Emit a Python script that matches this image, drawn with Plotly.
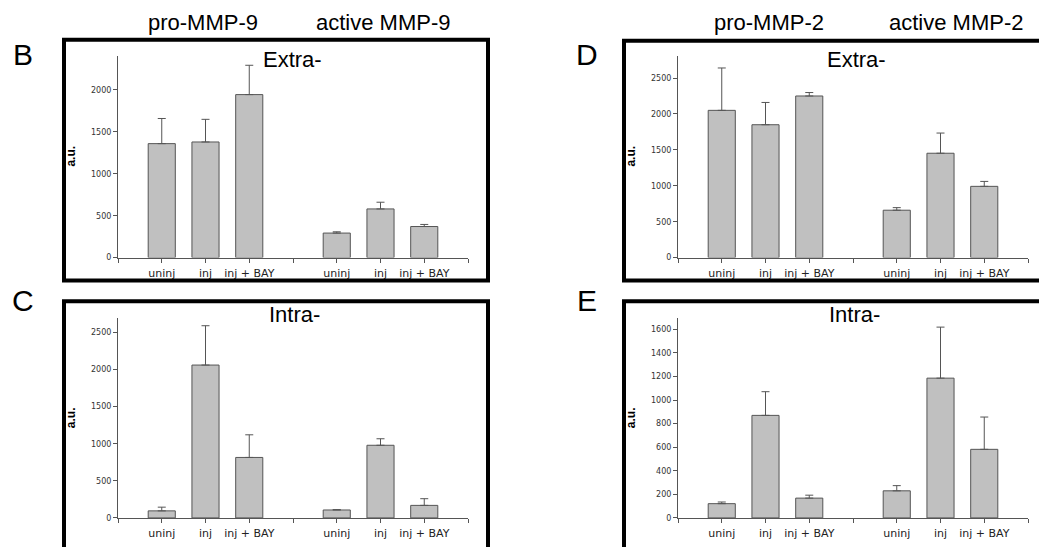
import plotly.graph_objects as go

W, H = 1039, 547

# ---- data ----
categories = ["uninj", "inj", "inj + BAY"]

mmp9_extra_pro = [1360, 1380, 1945]
mmp9_extra_pro_err = [300, 270, 350]
mmp9_extra_act = [293, 581, 371]
mmp9_extra_act_err = [15, 80, 25]

mmp9_intra_pro = [95, 2060, 815]
mmp9_intra_pro_err = [50, 530, 305]
mmp9_intra_act = [107, 979, 169]
mmp9_intra_act_err = [5, 88, 90]

mmp2_extra_pro = [2050, 1850, 2250]
mmp2_extra_pro_err = [590, 310, 48]
mmp2_extra_act = [660, 1453, 992]
mmp2_extra_act_err = [36, 281, 69]

mmp2_intra_pro = [121, 870, 168]
mmp2_intra_pro_err = [14, 201, 25]
mmp2_intra_act = [230, 1186, 582]
mmp2_intra_act_err = [44, 433, 274]

# ---- styling ----
BAR_FILL = "#c0c0c0"
BAR_LINE = "#555555"
AXIS_COL = "#555555"
TICK_FONT = dict(family="DejaVu Sans", size=8, color="#333333")
XLAB_FONT = dict(family="DejaVu Sans", size=11, color="#222222")
ARIAL = "Liberation Sans, Arial"

pro_pos = [1, 2, 3]
act_pos = [5, 6, 7]


def px_x(p):
    return p / W


def px_y(p):
    return 1 - p / H


fig = go.Figure()

panels = [
    ("", mmp9_extra_pro, mmp9_extra_pro_err, mmp9_extra_act, mmp9_extra_act_err),
    ("2", mmp2_extra_pro, mmp2_extra_pro_err, mmp2_extra_act, mmp2_extra_act_err),
    ("3", mmp9_intra_pro, mmp9_intra_pro_err, mmp9_intra_act, mmp9_intra_act_err),
    ("4", mmp2_intra_pro, mmp2_intra_pro_err, mmp2_intra_act, mmp2_intra_act_err),
]

for suf, pro, pro_e, act, act_e in panels:
    for pos, vals, errs in ((pro_pos, pro, pro_e), (act_pos, act, act_e)):
        fig.add_trace(go.Bar(
            x=pos, y=vals, width=0.62,
            marker=dict(color=BAR_FILL, line=dict(color=BAR_LINE, width=1)),
            error_y=dict(type="data", array=errs, arrayminus=[0] * len(errs),
                         symmetric=False, color=BAR_LINE, thickness=1, width=4),
            xaxis="x" + suf, yaxis="y" + suf, showlegend=False,
        ))

left_x = [px_x(118), px_x(468)]
right_x = [px_x(678), px_x(1028)]
top_y = [px_y(260), px_y(57)]
bot_y = [px_y(522.7), px_y(320.5)]

tickvals_x = list(range(0, 9))
ticktext_x = [""] + categories + [""] + categories + [""]


def xaxis(domain, anchor):
    return dict(domain=domain, anchor=anchor, range=[0, 8],
                tickmode="array", tickvals=tickvals_x, ticktext=ticktext_x,
                showline=True, linecolor=AXIS_COL, linewidth=1,
                ticks="outside", ticklen=4, tickcolor=AXIS_COL,
                showgrid=False, zeroline=False, tickfont=XLAB_FONT,
                ticklabelstandoff=1, fixedrange=True)


def yaxis(domain, anchor, ymax, dtick):
    return dict(domain=domain, anchor=anchor, range=[0, ymax],
                tick0=0, dtick=dtick,
                showline=True, linecolor=AXIS_COL, linewidth=1,
                ticks="outside", ticklen=4, tickcolor=AXIS_COL,
                showgrid=False, zeroline=False, tickfont=TICK_FONT,
                fixedrange=True)


fig.update_layout(
    width=W, height=H,
    margin=dict(l=0, r=0, t=0, b=0),
    paper_bgcolor="white", plot_bgcolor="white",
    barmode="overlay", showlegend=False,
    xaxis=xaxis(left_x, "y"), yaxis=yaxis(top_y, "x", 2400, 500),
    xaxis2=xaxis(right_x, "y2"), yaxis2=yaxis(top_y, "x2", 2800, 500),
    xaxis3=xaxis(left_x, "y3"), yaxis3=yaxis(bot_y, "x3", 2700, 500),
    xaxis4=xaxis(right_x, "y4"), yaxis4=yaxis(bot_y, "x4", 1700, 200),
)

frames = [(64, 40, 488, 283), (624, 41, 1070, 283), (64, 304, 488, 570), (624, 304, 1070, 570)]
for x0, y0, x1, y1 in frames:
    fig.add_shape(type="rect", xref="paper", yref="paper",
                  x0=px_x(x0), x1=px_x(x1), y0=px_y(y1), y1=px_y(y0),
                  line=dict(color="black", width=4), fillcolor="rgba(0,0,0,0)",
                  layer="above")


def ann(text, x, y, size, bold=False, angle=0):
    fig.add_annotation(text=("<b>%s</b>" % text) if bold else text,
                       xref="paper", yref="paper", x=px_x(x), y=px_y(y),
                       xanchor="center", yanchor="middle", showarrow=False,
                       textangle=angle,
                       font=dict(family=ARIAL, size=size, color="black"))


ann("pro-MMP-9", 203, 23, 22)
ann("active MMP-9", 383, 23, 22)
ann("pro-MMP-2", 769, 23, 22)
ann("active MMP-2", 956, 23, 22)

ann("B", 23, 55, 30)
ann("C", 23, 303, 30)
ann("D", 587, 55, 30)
ann("E", 587, 303, 30)

ann("Extra-", 292, 60, 22)
ann("Extra-", 856, 60, 22)
ann("Intra-", 294, 317, 22)
ann("Intra-", 854, 317, 22)

ann("a.u.", 71, 158, 12, bold=True, angle=-90)
ann("a.u.", 71, 422, 12, bold=True, angle=-90)
ann("a.u.", 631, 158, 12, bold=True, angle=-90)
ann("a.u.", 631, 422, 12, bold=True, angle=-90)

fig.write_html("out.html",
               config={"displayModeBar": False, "staticPlot": True},
               post_script="document.body.style.margin='0';"
                           "document.body.style.overflow='hidden';")
